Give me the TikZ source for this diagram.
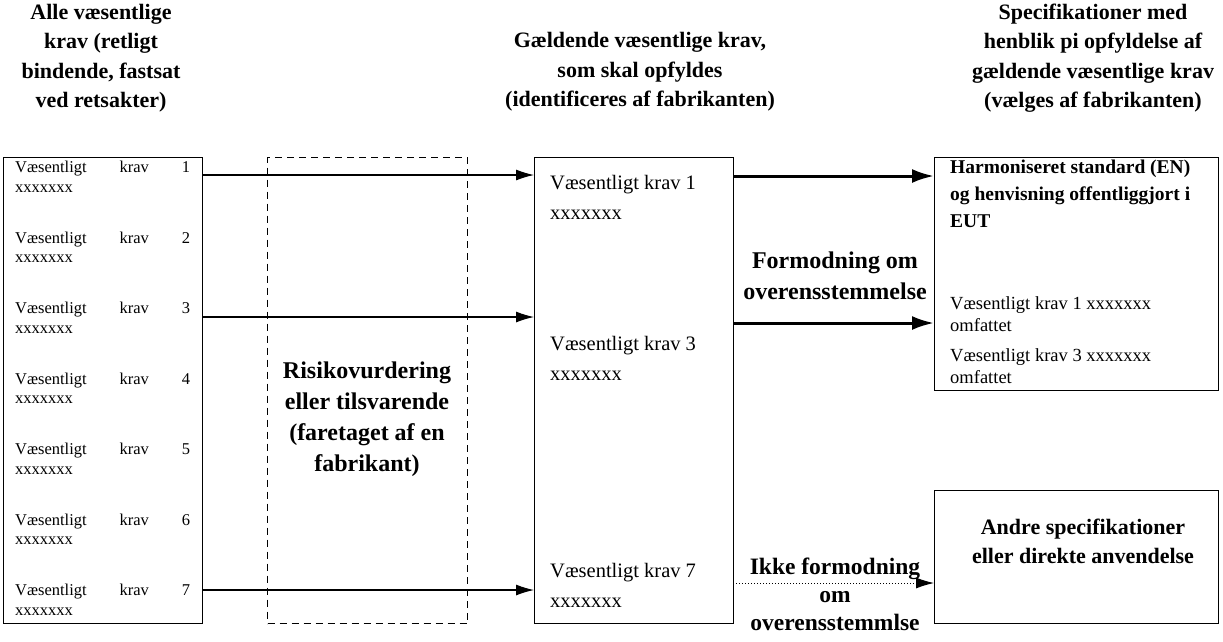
\documentclass[tikz,border=0pt]{standalone}
\usepackage{fontspec}
\setmainfont{Liberation Serif}
\usetikzlibrary{arrows.meta}
\newcommand{\fs}[2]{\fontsize{#1}{#2}\selectfont}

\begin{document}
\begin{tikzpicture}[x=1pt,y=-1pt,
  box/.style={draw, line width=1.1pt, anchor=north west, inner sep=0pt},
  riskbox/.style={box, dash pattern=on 7pt off 5pt},
  head/.style={font=\bfseries\fs{22}{29.5}, align=center, inner sep=0pt},
  label/.style={font=\bfseries\fs{24}{31}, align=center, inner sep=0pt},
  item/.style={font=\fs{16.5}{19.5}, align=left, anchor=north west, inner sep=0pt},
  krav/.style={font=\fs{20.5}{30}, align=left, anchor=north west, inner sep=0pt},
  thin arrow/.style={-{Latex[length=18pt,width=11pt]}, line width=1.1pt},
  thick arrow/.style={-{Latex[length=22pt,width=14pt]}, line width=3pt},
  dot arrow/.style={-{Latex[length=18pt,width=11pt]}, line width=1pt, dotted}]
\useasboundingbox (0,0) rectangle (1223,641);

% headings
\node[head] (h1) at (101,58) {Alle væsentlige\\krav (retligt\\bindende, fastsat\\ved retsakter)};
\node[head] (h2) at (640,72) {Gældende væsentlige krav,\\som skal opfyldes\\(identificeres af fabrikanten)};
\node[head] (h3) at (1093,58) {Specifikationer med\\henblik pi opfyldelse af\\gældende væsentlige krav\\(vælges af fabrikanten)};

% boxes
\node[box, minimum width=199pt, minimum height=466pt] (alle) at (3,157) {};
\node[riskbox, minimum width=200pt, minimum height=466pt] (risk) at (267,157) {};
\node[box, minimum width=199pt, minimum height=466pt] (gaeld) at (534,157) {};
\node[box, minimum width=284pt, minimum height=233pt] (harm) at (934,157) {};
\node[box, minimum width=284pt, minimum height=133pt] (andre) at (934,490) {};

% all requirements
\foreach \i in {1,...,7}
  \node[item] (k\i) at (15,{161+(\i-1)*70.5}) {\hbox to 175pt{Væsentligt\hfill krav\hfill \i}\\xxxxxxx};

\node[font=\bfseries\fs{24}{31}, align=center, inner sep=0pt] (risktxt) at (367,419)
  {Risikovurdering\\eller tilsvarende\\(faretaget af en\\fabrikant)};

% applicable requirements
\node[krav] (g1) at (550,175) {Væsentligt krav 1\\xxxxxxx};
\node[krav] (g3) at (550,336) {Væsentligt krav 3\\xxxxxxx};
\node[krav] (g7) at (550,563) {Væsentligt krav 7\\xxxxxxx};

% specifications
\node[font=\bfseries\fs{19.5}{27}, align=left, anchor=north west, inner sep=0pt] (harmtxt) at (950,160)
  {Harmoniseret standard (EN)\\og henvisning offentliggjort i\\EUT};
\node[font=\fs{18.5}{22}, align=left, anchor=north west, inner sep=0pt] (omf) at (950,296)
  {Væsentligt krav 1 xxxxxxx\\omfattet\\[8pt]Væsentligt krav 3 xxxxxxx\\omfattet};
\node[font=\bfseries\fs{22}{29}, align=center, inner sep=0pt] (andretxt) at (1083,541)
  {Andre specifikationer\\eller direkte anvendelse};

\node[label] (formod) at (835,276) {Formodning om\\overensstemmelse};
\node[label, font=\bfseries\fs{23.5}{28}] (ikke) at (835,594) {Ikke formodning\\om\\overensstemmlse};

% connectors
\coordinate (a1) at (202,175);
\coordinate (a3) at (202,317);
\coordinate (a7) at (202,590);
\coordinate (b1) at (534,175);
\coordinate (b3) at (534,317);
\coordinate (b7) at (534,590);
\coordinate (c1) at (733,176);
\coordinate (c3) at (733,323);
\coordinate (c7) at (733,583);
\coordinate (d1) at (934,176);
\coordinate (d3) at (934,323);
\coordinate (d7) at (934,583);
\draw[thin arrow] (a1) -- (b1);
\draw[thin arrow] (a3) -- (b3);
\draw[thin arrow] (a7) -- (b7);
\draw[thick arrow] (c1) -- (d1);
\draw[thick arrow] (c3) -- (d3);
\draw[dot arrow] (c7) -- (d7);
\end{tikzpicture}
\end{document}
